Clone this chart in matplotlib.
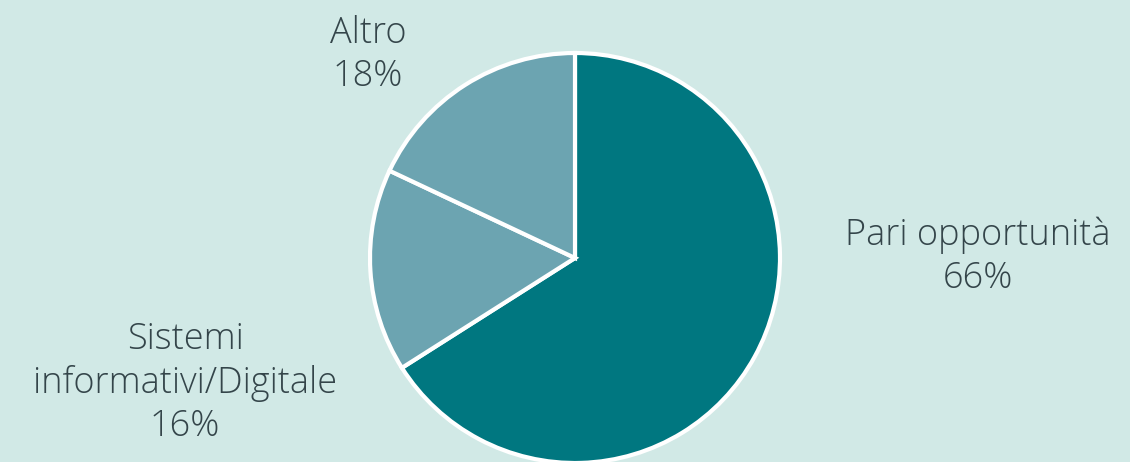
import matplotlib.pyplot as plt

# dati
labels = ['Pari opportunità', 'Sistemi\ninformativi/Digitale', 'Altro']
values = [66, 16, 18]
colors = ['#007780', '#6ca4b1', '#6ca4b1']

bg = '#d1e9e6'
text_col = '#34454a'

fig = plt.figure(figsize=(11.3, 4.62), dpi=100, facecolor=bg)
ax = fig.add_axes([0, 0, 1, 1])
ax.set_facecolor(bg)

ax.pie(values, colors=colors, startangle=90, counterclock=False,
       radius=1, center=(0, 0),
       wedgeprops={'edgecolor': 'white', 'linewidth': 3})

# posizione etichette (centro del blocco di testo)
label_pos = [(1.966, 0.005), (-1.902, -0.61), (-1.01, 0.99)]
for lab, v, (x, y) in zip(labels, values, label_pos):
    ax.text(x, y, f'{lab}\n{v}%', ha='center', va='center',
            fontsize=26, color=text_col, family='Open Sans',
            fontweight='light', linespacing=1.22)

ax.set_xlim(-575 / 205, (1130 - 575) / 205)
ax.set_ylim(-204 / 205, 258 / 205)
ax.set_aspect('equal')
ax.axis('off')

fig.savefig('out.png', dpi=100, facecolor=bg)
